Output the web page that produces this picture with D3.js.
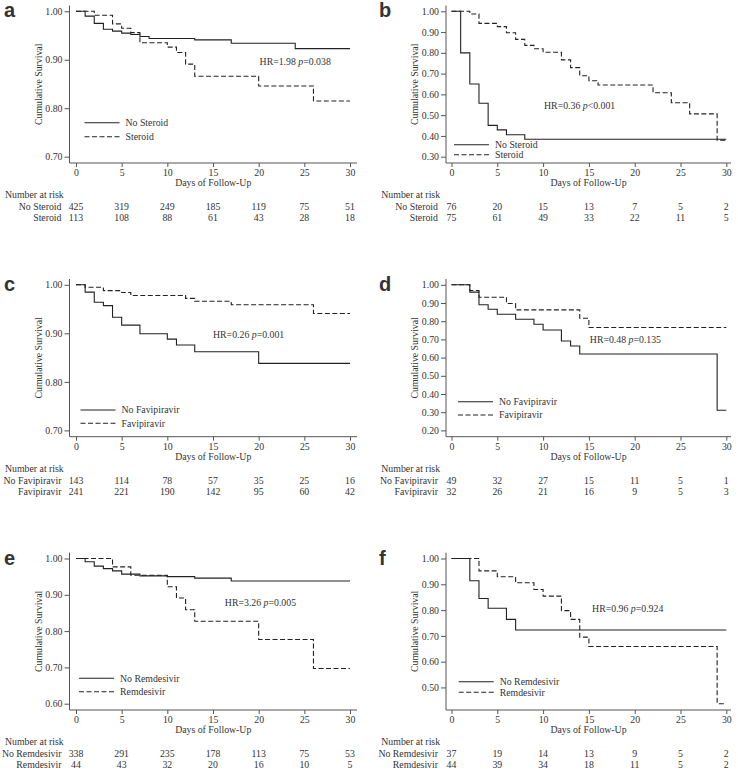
<!DOCTYPE html>
<html>
<head>
<meta charset="utf-8">
<script src="https://cdn.jsdelivr.net/npm/d3@7"></script>
<style>
  html, body { margin: 0; padding: 0; background: #fff; }
  svg text { font-family: "Liberation Serif", "Times New Roman", serif; fill: #333; }
</style>
</head>
<body>
<svg id="chart" width="738" height="775"></svg>
<script>
// ---------------- DATA ----------------
const xTicks = [0, 5, 10, 15, 20, 25, 30];

// Panel a: Steroid (overall)
const aNoSteroidT = [0, 1, 2, 3, 4, 5, 6, 7, 8, 13, 17, 24, 30];
const aNoSteroidS = [1, 0.990, 0.975, 0.963, 0.959, 0.955, 0.952, 0.948, 0.944, 0.941, 0.934, 0.923, 0.923];
const aSteroidT = [0, 2, 4, 5, 6, 7, 10, 11, 12, 13, 20, 26, 30];
const aSteroidS = [1, 0.992, 0.974, 0.965, 0.956, 0.935, 0.926, 0.915, 0.891, 0.866, 0.846, 0.815, 0.815];
const aRiskNo = [425, 319, 249, 185, 119, 75, 51];
const aRiskYes = [113, 108, 88, 61, 43, 28, 18];
const aYTicks = [0.70, 0.80, 0.90, 1.00];

// Panel b: Steroid (subgroup)
const bNoSteroidT = [0, 1, 2, 3, 4, 5, 6, 8, 30];
const bNoSteroidS = [1, 0.800, 0.650, 0.557, 0.451, 0.429, 0.406, 0.384, 0.384];
const bSteroidT = [0, 2, 3, 5, 6, 7, 8, 9, 10, 12, 13, 14, 15, 16, 22, 24, 26, 29, 30];
const bSteroidS = [1, 0.987, 0.942, 0.926, 0.897, 0.865, 0.836, 0.820, 0.803, 0.766, 0.729, 0.690, 0.666, 0.645, 0.608, 0.560, 0.506, 0.380, 0.380];
const bRiskNo = [76, 20, 15, 13, 7, 5, 2];
const bRiskYes = [75, 61, 49, 33, 22, 11, 5];
const bYTicks = [0.30, 0.40, 0.50, 0.60, 0.70, 0.80, 0.90, 1.00];

// Panel c: Favipiravir (overall)
const cNoFaviT = [0, 1, 2, 3, 4, 5, 7, 10, 11, 13, 20, 30];
const cNoFaviS = [1, 0.985, 0.964, 0.957, 0.933, 0.917, 0.899, 0.888, 0.876, 0.862, 0.838, 0.838];
const cFaviT = [0, 1, 3, 5, 6, 12, 13, 17, 26, 30];
const cFaviS = [1, 0.995, 0.988, 0.984, 0.978, 0.972, 0.966, 0.959, 0.941, 0.941];
const cRiskNo = [143, 114, 78, 57, 35, 25, 16];
const cRiskYes = [241, 221, 190, 142, 95, 60, 42];
const cYTicks = [0.70, 0.80, 0.90, 1.00];

// Panel d: Favipiravir (subgroup)
const dNoFaviT = [0, 2, 3, 4, 5, 7, 9, 10, 12, 13, 14, 29, 30];
const dNoFaviS = [1, 0.960, 0.890, 0.866, 0.838, 0.811, 0.783, 0.752, 0.691, 0.664, 0.620, 0.311, 0.311];
const dFaviT = [0, 2, 3, 6, 7, 14, 15, 30];
const dFaviS = [1, 0.969, 0.932, 0.897, 0.862, 0.816, 0.765, 0.765];
const dRiskNo = [49, 32, 27, 15, 11, 5, 1];
const dRiskYes = [32, 26, 21, 16, 9, 5, 3];
const dYTicks = [0.20, 0.30, 0.40, 0.50, 0.60, 0.70, 0.80, 0.90, 1.00];

// Panel e: Remdesivir (overall)
const eNoRemT = [0, 1, 2, 3, 4, 5, 7, 10, 13, 17, 30];
const eNoRemS = [1, 0.991, 0.979, 0.972, 0.966, 0.957, 0.952, 0.950, 0.946, 0.938, 0.938];
const eRemT = [0, 4, 6, 10, 11, 12, 13, 20, 26, 30];
const eRemS = [1, 0.977, 0.954, 0.922, 0.891, 0.859, 0.827, 0.777, 0.697, 0.697];
const eRiskNo = [338, 291, 235, 178, 113, 75, 53];
const eRiskYes = [44, 43, 32, 20, 16, 10, 5];
const eYTicks = [0.60, 0.70, 0.80, 0.90, 1.00];

// Panel f: Remdesivir (subgroup)
const fNoRemT = [0, 2, 3, 4, 6, 7, 30];
const fNoRemS = [1, 0.914, 0.845, 0.807, 0.764, 0.723, 0.723];
const fRemT = [0, 3, 5, 7, 9, 10, 12, 13, 14, 15, 29, 30];
const fRemS = [1, 0.952, 0.929, 0.906, 0.880, 0.854, 0.798, 0.764, 0.695, 0.659, 0.437, 0.437];
const fRiskNo = [37, 19, 14, 13, 9, 5, 2];
const fRiskYes = [44, 39, 34, 18, 11, 5, 2];
const fYTicks = [0.50, 0.60, 0.70, 0.80, 0.90, 1.00];

const panels = [
  { letter: "a", col: 0, row: 0, noLabel: "No Steroid", yesLabel: "Steroid",
    noT: aNoSteroidT, noS: aNoSteroidS, yesT: aSteroidT, yesS: aSteroidS,
    riskNo: aRiskNo, riskYes: aRiskYes, yTicks: aYTicks,
    hr: "HR=1.98 ", pText: "=0.038", hrAt: [20.1, 0.897], leg: [15, -40.3, -26.3] },
  { letter: "b", col: 1, row: 0, noLabel: "No Steroid", yesLabel: "Steroid",
    noT: bNoSteroidT, noS: bNoSteroidS, yesT: bSteroidT, yesS: bSteroidS,
    riskNo: bRiskNo, riskYes: bRiskYes, yTicks: bYTicks,
    hr: "HR=0.36 ", pText: "<0.001", hrAt: [10.1, 0.544], leg: [8, -18.2, -8.2] },
  { letter: "c", col: 0, row: 1, noLabel: "No Favipiravir", yesLabel: "Favipiravir",
    noT: cNoFaviT, noS: cNoFaviS, yesT: cFaviT, yesS: cFaviS,
    riskNo: cRiskNo, riskYes: cRiskYes, yTicks: cYTicks,
    hr: "HR=0.26 ", pText: "=0.001", hrAt: [15.0, 0.898], leg: [11, -26.7, -13.4] },
  { letter: "d", col: 1, row: 1, noLabel: "No Favipiravir", yesLabel: "Favipiravir",
    noT: dNoFaviT, noS: dNoFaviS, yesT: dFaviT, yesS: dFaviS,
    riskNo: dRiskNo, riskYes: dRiskYes, yTicks: dYTicks,
    hr: "HR=0.48 ", pText: "=0.135", hrAt: [15.1, 0.697], leg: [12, -35, -21.7] },
  { letter: "e", col: 0, row: 2, noLabel: "No Remdesivir", yesLabel: "Remdesivir",
    noT: eNoRemT, noS: eNoRemS, yesT: eRemT, yesS: eRemS,
    riskNo: eRiskNo, riskYes: eRiskYes, yTicks: eYTicks,
    hr: "HR=3.26 ", pText: "=0.005", hrAt: [16.3, 0.879], leg: [9.5, -31.7, -18.3] },
  { letter: "f", col: 1, row: 2, noLabel: "No Remdesivir", yesLabel: "Remdesivir",
    noT: fNoRemT, noS: fNoRemS, yesT: fRemT, yesS: fRemS,
    riskNo: fRiskNo, riskYes: fRiskYes, yTicks: fYTicks,
    hr: "HR=0.96 ", pText: "=0.924", hrAt: [15.35, 0.804], leg: [12.7, -28.3, -17.7] }
];

// ---------------- LAYOUT ----------------
const colAxisX = [69.5, 446];
const colXStart = [76, 451.5];
const colXEnd = [350, 726.3];
const colAxisEnd = [357, 731];
const colNarX = [5, 381.3];
const colLetterX = [4, 379];
const rowTop = [5.5, 279, 552.7];
const rowAxisY = [163, 436.7, 710];

const svg = d3.select("#chart");
const FS = 9.8;
const lineColor = "#222";
const axisColor = "#555";

panels.forEach(p => {
  const ax = colAxisX[p.col], axEnd = colAxisEnd[p.col];
  const top = rowTop[p.row], axY = rowAxisY[p.row];
  const g = svg.append("g");

  const x = d3.scaleLinear().domain([0, 30]).range([colXStart[p.col], colXEnd[p.col]]);
  const yMin = Math.min(d3.min(p.yTicks), d3.min(p.noS), d3.min(p.yesS));
  const y = d3.scaleLinear().domain([yMin, 1]).range([axY - 6.3, top + 5.8]);

  // axis lines
  g.append("line").attr("x1", ax).attr("x2", ax).attr("y1", top).attr("y2", axY)
    .attr("stroke", axisColor).attr("stroke-width", 1);
  g.append("line").attr("x1", ax).attr("x2", axEnd).attr("y1", axY).attr("y2", axY)
    .attr("stroke", axisColor).attr("stroke-width", 1);

  // y axis
  const yAxis = g.append("g").attr("transform", `translate(${ax},0)`)
    .call(d3.axisLeft(y).tickValues(p.yTicks).tickFormat(d3.format(".2f")).tickSize(5).tickPadding(2));
  yAxis.select(".domain").remove();
  yAxis.selectAll(".tick line").attr("stroke", axisColor);
  yAxis.selectAll("text").attr("font-size", FS).attr("font-family", "Liberation Serif").attr("fill", "#333");

  // x axis
  const xAxis = g.append("g").attr("transform", `translate(0,${axY})`)
    .call(d3.axisBottom(x).tickValues(xTicks).tickFormat(d3.format("d")).tickSize(4).tickPadding(2));
  xAxis.select(".domain").remove();
  xAxis.selectAll(".tick line").attr("stroke", axisColor);
  xAxis.selectAll("text").attr("font-size", FS).attr("font-family", "Liberation Serif").attr("fill", "#333");

  // axis titles
  g.append("text").attr("x", (ax + axEnd) / 2).attr("y", axY + 20).attr("dy", "0.35em")
    .attr("text-anchor", "middle").attr("font-size", FS).text("Days of Follow-Up");
  g.append("text").attr("transform", `translate(${ax - 31},${(top + axY) / 2}) rotate(-90)`)
    .attr("dy", "0.35em").attr("text-anchor", "middle").attr("font-size", FS).text("Cumulative Survival");

  // curves
  const line = d3.line().x(d => x(d[0])).y(d => y(d[1])).curve(d3.curveStepAfter);
  g.append("path").datum(d3.zip(p.noT, p.noS)).attr("d", line)
    .attr("fill", "none").attr("stroke", lineColor).attr("stroke-width", 1.1);
  g.append("path").datum(d3.zip(p.yesT, p.yesS)).attr("d", line)
    .attr("fill", "none").attr("stroke", lineColor).attr("stroke-width", 1.1)
    .attr("stroke-dasharray", "5,2.5");

  // HR annotation
  const hrT = g.append("text").attr("x", x(p.hrAt[0])).attr("y", y(p.hrAt[1])).attr("dy", "0.35em")
    .attr("font-size", FS);
  hrT.append("tspan").text(p.hr);
  hrT.append("tspan").attr("font-style", "italic").text("p");
  hrT.append("tspan").text(p.pText);

  // legend
  const lx = ax + p.leg[0];
  [[p.leg[1], null, p.noLabel], [p.leg[2], "5,2.5", p.yesLabel]].forEach(([dy, dash, lab]) => {
    g.append("line").attr("x1", lx).attr("x2", lx + 35).attr("y1", axY + dy).attr("y2", axY + dy)
      .attr("stroke", lineColor).attr("stroke-width", 1.1).attr("stroke-dasharray", dash);
    g.append("text").attr("x", lx + 41).attr("y", axY + dy).attr("dy", "0.35em")
      .attr("font-size", FS).text(lab);
  });

  // number at risk
  g.append("text").attr("x", colNarX[p.col]).attr("y", axY + 31.5).attr("dy", "0.35em")
    .attr("font-size", FS).text("Number at risk");
  [[p.noLabel, p.riskNo, 44], [p.yesLabel, p.riskYes, 55]].forEach(([lab, vals, dy]) => {
    g.append("text").attr("x", ax - 8).attr("y", axY + dy).attr("dy", "0.35em")
      .attr("text-anchor", "end").attr("font-size", FS).text(lab);
    g.selectAll(null).data(vals).enter().append("text")
      .attr("x", (d, i) => x(xTicks[i])).attr("y", axY + dy).attr("dy", "0.35em")
      .attr("text-anchor", "middle").attr("font-size", FS).text(d => d);
  });

  // panel letter
  g.append("text").attr("x", colLetterX[p.col]).attr("y", top + 11.8)
    .attr("font-weight", "bold").attr("font-size", 20).attr("fill", "#000")
    .style("font-family", "'Liberation Sans', Arial, sans-serif")
    .text(p.letter);
});
</script>
</body>
</html>
